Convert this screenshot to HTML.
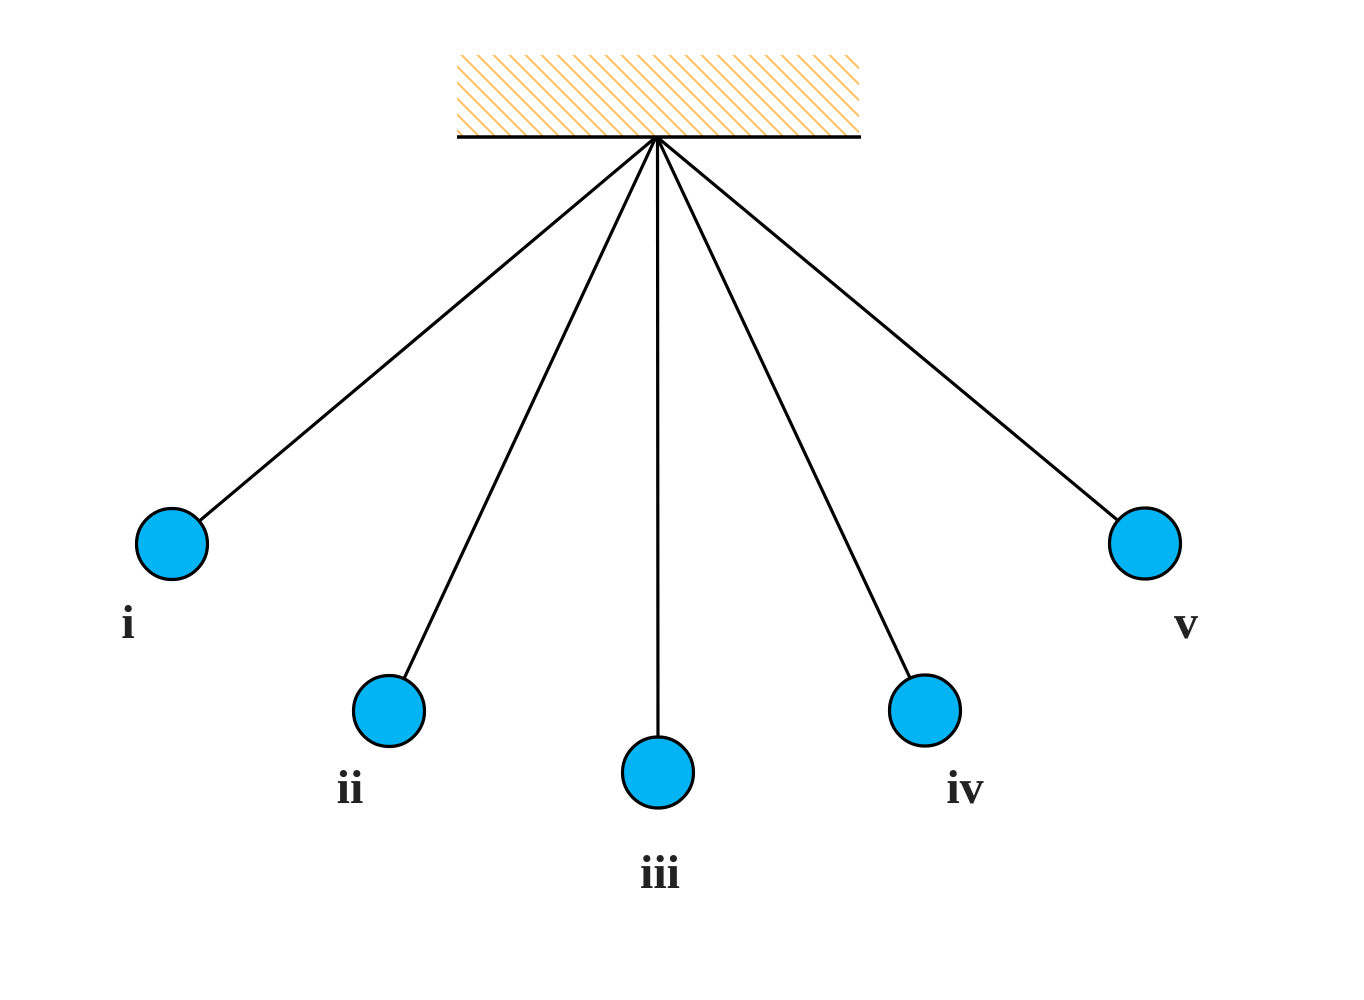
<!DOCTYPE html>
<html>
<head>
<meta charset="utf-8">
<style>
  html, body { margin:0; padding:0; background:#ffffff; }
  body { width:1364px; height:1000px; overflow:hidden; }
  svg { display:block; }
  text { font-family: "Liberation Serif", serif; font-weight:bold; font-size:48px; fill:#222222; }
</style>
</head>
<body>
<svg width="1364" height="1000" viewBox="0 0 1364 1000" xmlns="http://www.w3.org/2000/svg">
  <defs>
    <pattern id="hatch" patternUnits="userSpaceOnUse" width="16" height="16" patternTransform="translate(6.7,0)">
      <path d="M0,0 L16,16 M-8,8 L8,24 M8,-8 L24,8 M-16,0 L0,16 M16,0 L32,16" stroke="#FFBE5C" stroke-width="2" fill="none"/>
    </pattern>
  </defs>

  <!-- hatched support -->
  <rect x="457" y="55" width="402" height="81" fill="url(#hatch)"/>
  <line x1="457" y1="137" x2="861" y2="137" stroke="#000" stroke-width="3.6"/>

  <!-- strings -->
  <g stroke="#000" stroke-width="3.2" fill="none">
    <line x1="656" y1="137" x2="172" y2="544"/>
    <line x1="656" y1="137" x2="389" y2="711"/>
    <line x1="657.5" y1="137" x2="658" y2="772"/>
    <line x1="657" y1="137" x2="925" y2="710"/>
    <line x1="657" y1="137" x2="1145" y2="543"/>
  </g>

  <!-- bobs -->
  <g fill="#02B4F3" stroke="#000" stroke-width="3.2">
    <circle cx="172" cy="544" r="35.5"/>
    <circle cx="389" cy="711" r="35.5"/>
    <circle cx="658" cy="772.5" r="35.5"/>
    <circle cx="925" cy="710.5" r="35.5"/>
    <circle cx="1145" cy="543.5" r="35.5"/>
  </g>

  <!-- labels -->
  <text x="128" y="638" text-anchor="middle">i</text>
  <text x="350" y="803" text-anchor="middle">ii</text>
  <text x="660" y="888" text-anchor="middle">iii</text>
  <text x="965" y="803" text-anchor="middle">iv</text>
  <text x="1186" y="638" text-anchor="middle">v</text>
</svg>
</body>
</html>
